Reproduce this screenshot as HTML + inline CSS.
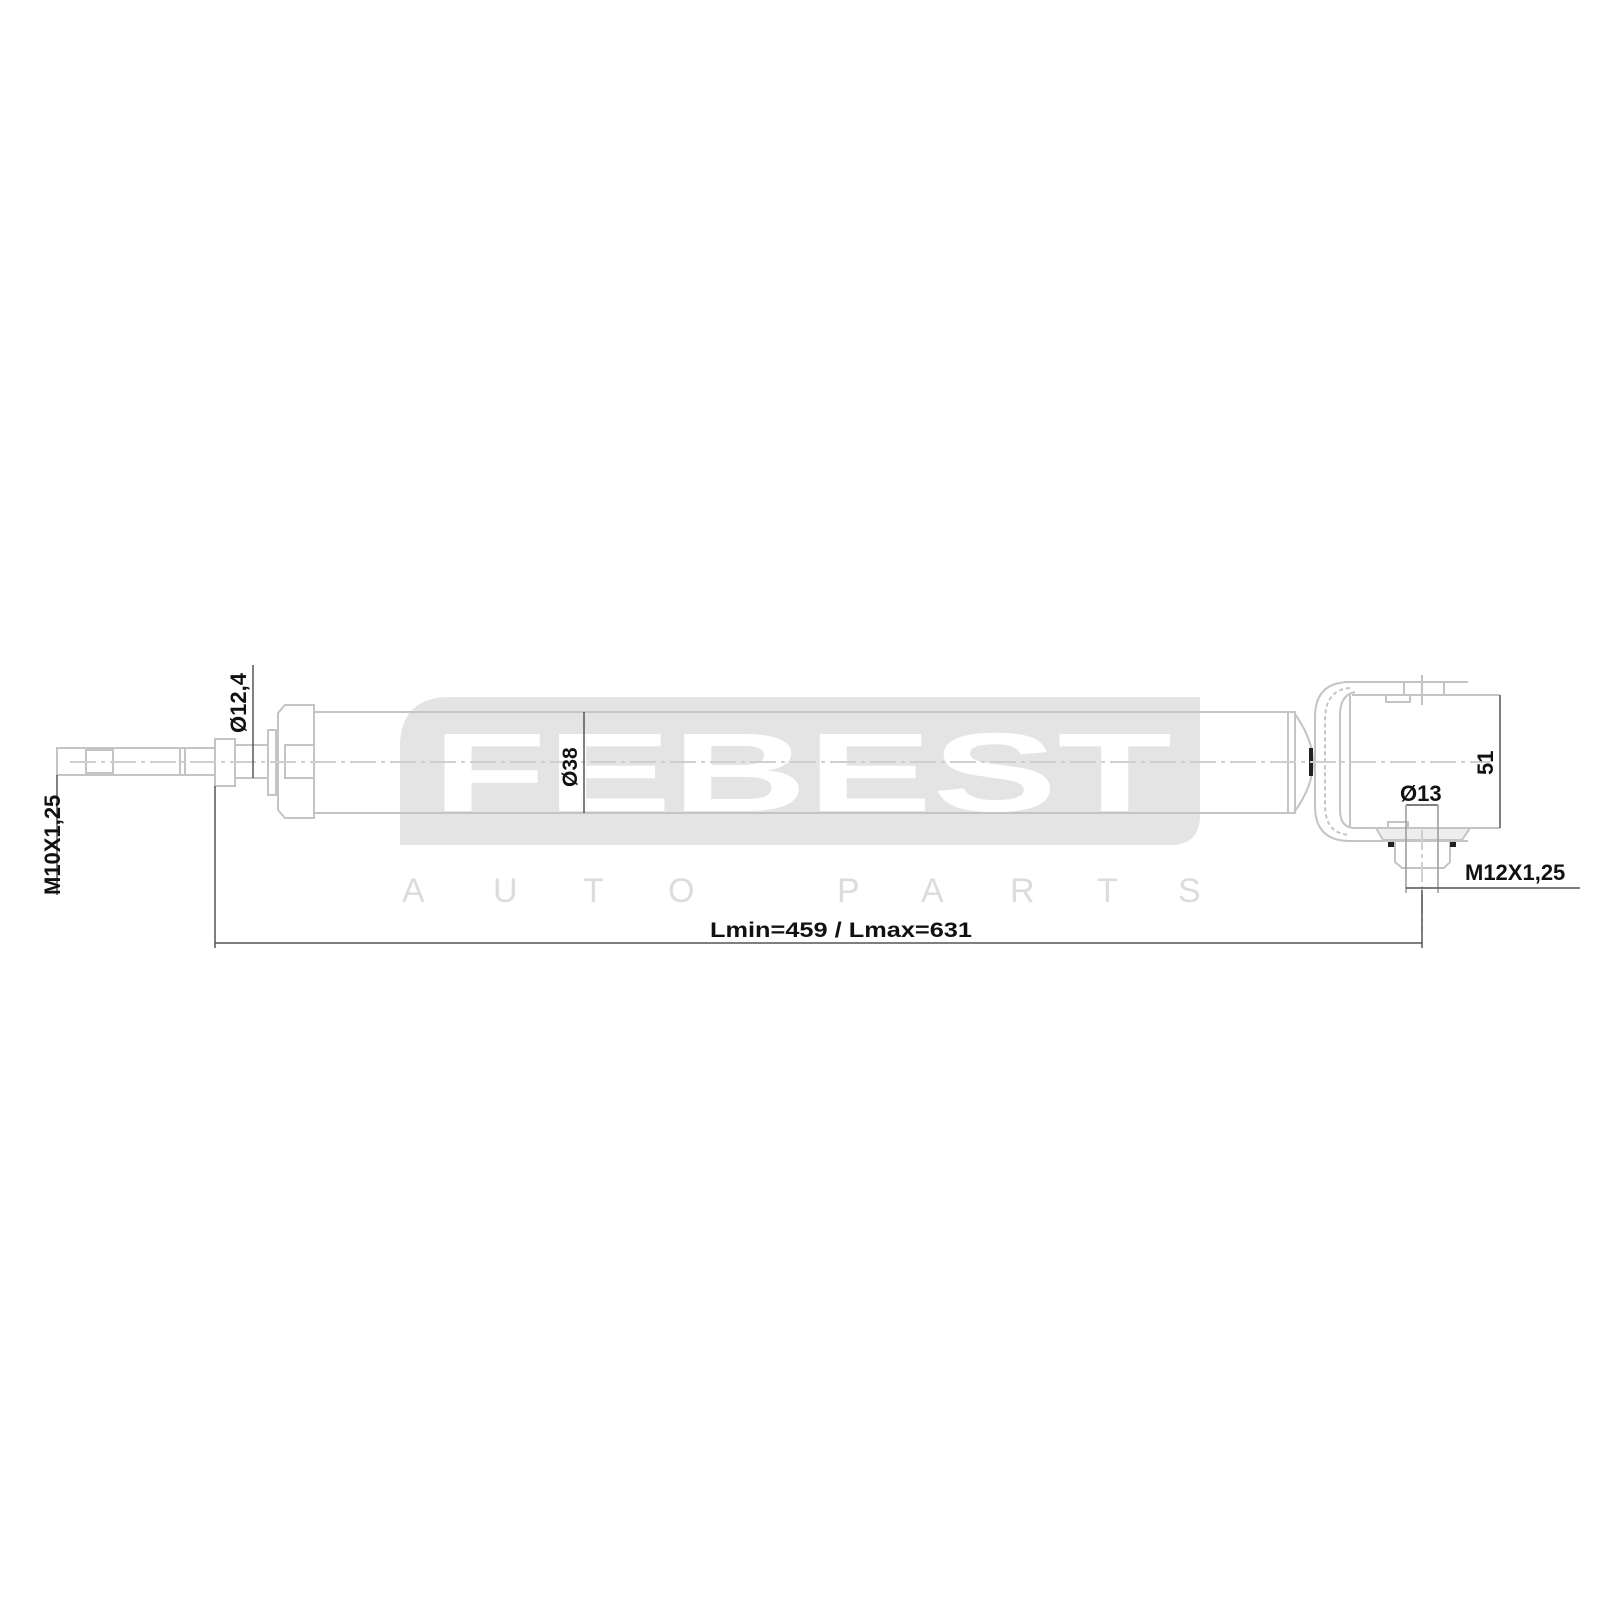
<!DOCTYPE html>
<html><head><meta charset="utf-8"><style>
html,body{margin:0;padding:0;background:#fff;width:1600px;height:1600px;overflow:hidden}
svg{display:block}
</style></head><body>
<svg width="1600" height="1600" viewBox="0 0 1600 1600" xmlns="http://www.w3.org/2000/svg">
<path d="M450,697 H1200 V815 Q1200,845 1170,845 H400 V747 Q400,697 450,697 Z" fill="#e4e4e4"/>
<text x="432" y="811" font-family="Liberation Sans, sans-serif" font-weight="bold" font-size="112" fill="#fff" textLength="740" lengthAdjust="spacingAndGlyphs">FEBEST</text>
<g font-family="Liberation Sans, sans-serif" font-size="34" fill="#dcdcdc">
<text x="402" y="902">A</text><text x="493" y="902">U</text><text x="583" y="902">T</text><text x="668" y="902">O</text>
<text x="837" y="902">P</text><text x="921" y="902">A</text><text x="1010" y="902">R</text><text x="1097" y="902">T</text><text x="1178" y="902">S</text>
</g>
<g fill="none" stroke="#c4c4c4" stroke-width="2">
<rect x="57" y="748" width="128" height="27"/>
<rect x="86" y="750" width="27" height="23"/>
<line x1="180" y1="748" x2="180" y2="775"/>
<rect x="185" y="748" width="30" height="27"/>
<rect x="215" y="739" width="20" height="47"/>
<rect x="235" y="745" width="33" height="33"/>
<rect x="268" y="730" width="8" height="65"/>
<path d="M285,705 H314 V818 H285 L278,810 V713 Z"/>
<rect x="285" y="745" width="29" height="33"/>
<line x1="314" y1="712" x2="1288" y2="712"/>
<line x1="314" y1="813" x2="1288" y2="813"/>
<rect x="1288" y="712" width="7" height="101"/>
<path d="M1295,714 Q1313,740 1313,762 Q1313,786 1295,811"/>
<path d="M1468,682 H1350 Q1315,682 1315,717 V806 Q1315,841 1350,841 H1468"/>
<path d="M1350,688 Q1325,690 1325,720 V805 Q1325,834 1350,835" stroke-dasharray="4 3"/>
<path d="M1355,692 Q1340,695 1340,715 V810 Q1340,828 1355,828"/>
<path d="M1352,695 H1500 M1352,828 H1500 M1350,695 V828"/>
<rect x="1386" y="695" width="24" height="7"/>
<line x1="1422" y1="675" x2="1422" y2="705"/>
<line x1="1404" y1="683" x2="1404" y2="695"/><line x1="1444" y1="683" x2="1444" y2="695"/>
<path d="M1376,828 H1470 L1462,840 H1383 Z" fill="#eee"/>
<path d="M1395,842 V862 L1402,868 H1444 L1450,862 V842"/>
<rect x="1388" y="822" width="20" height="6"/>
</g>
<g fill="#222"><rect x="1309" y="748" width="4" height="28"/><rect x="1388" y="842" width="6" height="5"/><rect x="1450" y="842" width="6" height="5"/></g>
<line x1="70" y1="762" x2="1490" y2="762" stroke="#cfcfcf" stroke-width="2" stroke-dasharray="26 5 4 5"/>
<line x1="1422" y1="830" x2="1422" y2="930" stroke="#cfcfcf" stroke-width="2" stroke-dasharray="20 4 4 4"/>
<g stroke="#555" stroke-width="1.5" fill="none">
<line x1="253" y1="665" x2="253" y2="778"/>
<line x1="584" y1="712" x2="584" y2="813"/>
<line x1="1500" y1="695" x2="1500" y2="828"/>
<line x1="57" y1="775" x2="57" y2="895"/>
<line x1="215" y1="786" x2="215" y2="948"/>
<line x1="1422" y1="890" x2="1422" y2="948"/>
<line x1="215" y1="943" x2="1422" y2="943"/>
<line x1="1406" y1="805" x2="1438" y2="805"/>
<line x1="1406" y1="805" x2="1406" y2="893" stroke="#999"/><line x1="1438" y1="805" x2="1438" y2="893" stroke="#999"/>
<line x1="1406" y1="888" x2="1580" y2="888"/>
</g>
<g font-family="Liberation Sans, sans-serif" font-weight="bold" fill="#111">
<text transform="translate(60,895) rotate(-90)" font-size="22">M10X1,25</text>
<text transform="translate(246,733) rotate(-90)" font-size="22">Ø12,4</text>
<text transform="translate(577,787) rotate(-90)" font-size="21">Ø38</text>
<text transform="translate(1493,775) rotate(-90)" font-size="22">51</text>
<text x="1400" y="801" font-size="22">Ø13</text>
<text x="1465" y="880" font-size="22">M12X1,25</text>
<text x="710" y="937" font-size="21" textLength="262" lengthAdjust="spacingAndGlyphs">Lmin=459 / Lmax=631</text>
</g>
</svg>
</body></html>
